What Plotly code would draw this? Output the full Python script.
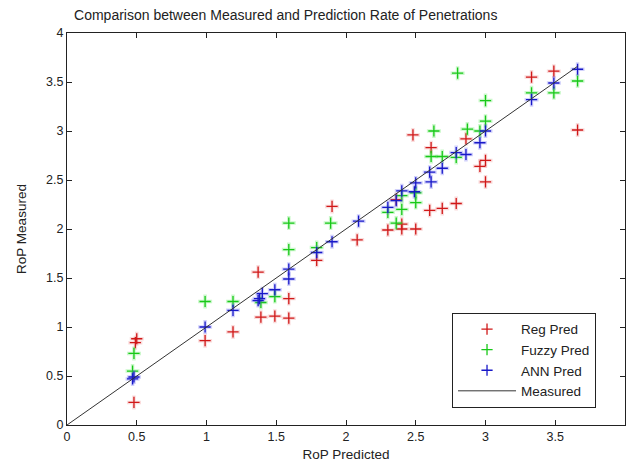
import plotly.graph_objects as go

reg_x = [0.50, 0.49, 0.48, 0.99, 1.19, 1.37, 1.39, 1.49, 1.59, 1.59, 1.79, 1.90, 2.08, 2.30, 2.36, 2.40, 2.40, 2.50, 2.48, 2.60, 2.69, 2.79, 2.61, 2.86, 2.96, 3.00, 3.00, 3.33, 3.49, 3.66]
reg_y = [0.88, 0.84, 0.23, 0.86, 0.95, 1.56, 1.10, 1.11, 1.09, 1.29, 1.68, 2.23, 1.89, 1.99, 2.30, 2.05, 2.00, 2.00, 2.96, 2.19, 2.21, 2.26, 2.83, 2.92, 2.64, 2.70, 2.48, 3.55, 3.61, 3.01]

fuzzy_x = [0.48, 0.47, 0.99, 1.19, 1.39, 1.49, 1.59, 1.59, 1.79, 1.89, 2.30, 2.36, 2.40, 2.40, 2.50, 2.50, 2.61, 2.63, 2.69, 2.79, 2.80, 2.87, 2.96, 3.00, 3.00, 3.33, 3.49, 3.66]
fuzzy_y = [0.73, 0.55, 1.26, 1.26, 1.25, 1.31, 2.06, 1.79, 1.81, 2.06, 2.17, 2.06, 2.20, 2.34, 2.27, 2.37, 2.74, 3.00, 2.74, 2.73, 3.59, 3.02, 3.00, 3.10, 3.31, 3.39, 3.39, 3.51]

ann_x = [0.48, 0.47, 0.99, 1.19, 1.37, 1.38, 1.40, 1.49, 1.59, 1.59, 1.79, 1.90, 2.09, 2.30, 2.36, 2.40, 2.49, 2.50, 2.60, 2.61, 2.69, 2.79, 2.86, 2.96, 3.00, 3.33, 3.49, 3.66]
ann_y = [0.49, 0.47, 1.00, 1.17, 1.27, 1.29, 1.34, 1.38, 1.59, 1.49, 1.76, 1.87, 2.08, 2.22, 2.29, 2.39, 2.38, 2.47, 2.58, 2.48, 2.62, 2.78, 2.76, 2.88, 3.00, 3.32, 3.49, 3.63]

meas_x = [0.0, 3.66]
meas_y = [0.0, 3.66]

ticks = [0, 0.5, 1, 1.5, 2, 2.5, 3, 3.5, 4]
tick_text = ["0", "0.5", "1", "1.5", "2", "2.5", "3", "3.5", "4"]

FONT = "Liberation Sans, Arial, sans-serif"

fig = go.Figure()

def add_series(xs, ys, color, halo, name):
    # soft halo to mimic blurred markers
    fig.add_trace(go.Scatter(x=xs, y=ys, mode="markers", showlegend=False, hoverinfo="skip",
                             marker=dict(symbol="cross-thin", size=10,
                                         line=dict(color=halo, width=3.5))))
    fig.add_trace(go.Scatter(x=xs, y=ys, mode="markers", name=name,
                             marker=dict(symbol="cross-thin", size=8,
                                         line=dict(color=color, width=1.3))))

add_series(reg_x, reg_y, "#d01818", "rgba(230,90,90,0.22)", "Reg Pred")
add_series(fuzzy_x, fuzzy_y, "#18c818", "rgba(70,230,70,0.28)", "Fuzzy Pred")
add_series(ann_x, ann_y, "#1818c8", "rgba(90,90,240,0.28)", "ANN Pred")
fig.add_trace(go.Scatter(x=meas_x, y=meas_y, mode="lines", name="Measured",
                         line=dict(color="#333333", width=1)))

axis_common = dict(range=[0, 4], tickvals=ticks, ticktext=tick_text,
                   showgrid=False, zeroline=False, showline=True, linecolor="#222222",
                   linewidth=1, mirror="ticks", ticks="inside", ticklen=5,
                   tickcolor="#222222", tickfont=dict(family=FONT, size=12.5, color="#222222"))

fig.update_layout(
    width=628, height=467,
    margin=dict(l=67, r=3, t=33, b=42),
    paper_bgcolor="white", plot_bgcolor="white",
    title=dict(text="Comparison between Measured and Prediction Rate of Penetrations",
               x=0.455, xanchor="center", y=0.978, yanchor="top",
               font=dict(family=FONT, size=14, color="#222222")),
    xaxis=dict(axis_common, title=dict(text="RoP Predicted", standoff=6,
                                        font=dict(family=FONT, size=13.5, color="#222222"))),
    yaxis=dict(axis_common, title=dict(text="RoP Measured", standoff=16,
                                        font=dict(family=FONT, size=13.5, color="#222222"))),
    legend=dict(x=0.69, y=0.286, xanchor="left", yanchor="top",
                bgcolor="white", bordercolor="#222222", borderwidth=1,
                font=dict(family=FONT, size=13.5, color="#222222"),
                itemwidth=58, tracegroupgap=0),
    showlegend=True,
)

fig.write_html("out.html")
